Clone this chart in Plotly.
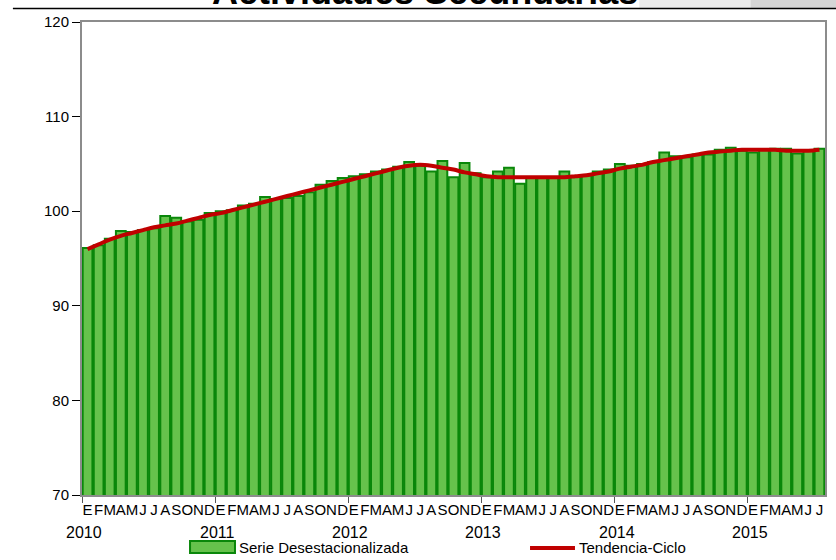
import plotly.graph_objects as go

# monthly index, Jan 2010 .. Jul 2015
month_letters = ['E', 'F', 'M', 'A', 'M', 'J', 'J', 'A', 'S', 'O', 'N', 'D']
years = ['2010', '2011', '2012', '2013', '2014', '2015']

serie_desest = [
    96.1, 96.4, 97.1, 97.9, 97.8, 98.0, 98.2, 99.5, 99.3, 98.9, 99.1, 99.8,
    100.0, 100.1, 100.6, 100.8, 101.5, 101.3, 101.4, 101.6, 102.0, 102.8, 103.2, 103.5,
    103.7, 103.9, 104.2, 104.4, 104.7, 105.2, 104.8, 104.2, 105.3, 103.6, 105.1, 104.0,
    103.6, 104.2, 104.6, 102.9, 103.5, 103.6, 103.6, 104.2, 103.7, 103.8, 104.2, 104.4,
    105.0, 104.8, 105.0, 105.2, 106.2, 105.8, 105.7, 106.0, 106.0, 106.5, 106.7, 106.4,
    106.2, 106.5, 106.6, 106.6, 106.1, 106.4, 106.6,
]

tendencia = [
    96.0, 96.5, 97.0, 97.4, 97.7, 98.0, 98.3, 98.5, 98.7, 99.0, 99.3, 99.6,
    99.8, 100.1, 100.4, 100.7, 101.0, 101.3, 101.6, 101.9, 102.2, 102.5, 102.8, 103.1,
    103.4, 103.7, 104.0, 104.3, 104.6, 104.8, 104.9, 104.8, 104.6, 104.4, 104.1, 103.9,
    103.7, 103.6, 103.6, 103.6, 103.6, 103.6, 103.6, 103.6, 103.7, 103.8, 104.0, 104.2,
    104.5, 104.7, 104.9, 105.2, 105.4, 105.6, 105.8, 106.0, 106.2, 106.3, 106.4, 106.5,
    106.5, 106.5, 106.5, 106.4, 106.4, 106.4, 106.5,
]

n = len(serie_desest)
x = list(range(n))
tick_text = [month_letters[i % 12] for i in x]

FONT = 'Liberation Sans, Arial, sans-serif'
BAR_FILL = '#66c24c'
BAR_EDGE = '#0a870a'
TREND = '#c00000'

fig = go.Figure()
fig.add_trace(go.Bar(
    name='Serie Desestacionalizada', x=x, y=serie_desest,
    marker=dict(color=BAR_FILL, line=dict(color=BAR_EDGE, width=2))))
fig.add_trace(go.Scatter(
    name='Tendencia-Ciclo', x=x, y=tendencia, mode='lines',
    line=dict(color=TREND, width=4, shape='spline')))

fig.update_layout(
    width=836, height=560,
    margin=dict(l=82, r=11, t=22, b=65, autoexpand=False),
    paper_bgcolor='white', plot_bgcolor='white',
    font=dict(family=FONT, size=15, color='black'),
    bargap=0.12,
    showlegend=False,
)

fig.update_yaxes(
    range=[70, 120], tickvals=[70, 80, 90, 100, 110, 120],
    showgrid=False, zeroline=False, automargin=False,
    showline=True, linecolor='#8c8c8c', linewidth=2, mirror=True,
    ticks='outside', ticklen=8, tickcolor='black', tickwidth=1,
    tickfont=dict(family=FONT, size=15))
fig.update_xaxes(
    range=[-0.5, n - 0.5], tickvals=x, ticktext=tick_text, tickangle=0,
    showgrid=False, zeroline=False, automargin=False,
    showline=True, linecolor='#8c8c8c', linewidth=2, mirror=True,
    ticks='', tickfont=dict(family=FONT, size=15),
    minor=dict(tick0=-0.5, dtick=12, ticks='outside', ticklen=6, tickcolor='#555'))

# year labels under the month letters
for k, yr in enumerate(years):
    fig.add_annotation(x=12 * k - 0.3, xref='x', y=-0.079, yref='paper',
                       text=yr, showarrow=False, yanchor='middle',
                       font=dict(family=FONT, size=16))

# legend drawn below the axis, cut by the bottom edge as in the original
fig.add_shape(type='rect', xref='paper', yref='paper',
              x0=0.1454, x1=0.2059, y0=-0.1226, y1=-0.0973,
              fillcolor=BAR_FILL, line=dict(color=BAR_EDGE, width=2))
fig.add_annotation(text='Serie Desestacionalizada', xref='paper', yref='paper',
                   x=0.2086, y=-0.110, xanchor='left', yanchor='middle',
                   showarrow=False, font=dict(family=FONT, size=15))
fig.add_shape(type='line', xref='paper', yref='paper',
              x0=0.603, x1=0.6635, y0=-0.112, y1=-0.112,
              line=dict(color=TREND, width=4))
fig.add_annotation(text='Tendencia-Ciclo', xref='paper', yref='paper',
                   x=0.6662, y=-0.110, xanchor='left', yanchor='middle',
                   showarrow=False, font=dict(family=FONT, size=15))

# title, cut off at the top of the image, with rule below it
fig.add_shape(type='rect', xref='paper', yref='paper',
              x0=0.75, x1=1.015, y0=1.0296, y1=1.0465,
              fillcolor='#ebebeb', line_width=0, layer='below')
fig.add_shape(type='rect', xref='paper', yref='paper',
              x0=0.9, x1=1.015, y0=1.0296, y1=1.0465,
              fillcolor='#d6d6d6', line_width=0, layer='below')
fig.add_annotation(text='<b>Actividades Secundarias</b>', xref='paper', yref='paper',
                   x=0.4617, y=1.0165, xanchor='center', yanchor='bottom',
                   showarrow=False,
                   font=dict(family=FONT, size=36, color='black'))
fig.add_shape(type='line', xref='paper', yref='paper',
              x0=-0.093, x1=1.0148, y0=1.0285, y1=1.0285,
              line=dict(color='black', width=1.5))

# drop the default 8px body margin so the figure fills the window
fig.write_html('out.html', config={'displayModeBar': False},
               post_script="document.body.style.margin='0';")
